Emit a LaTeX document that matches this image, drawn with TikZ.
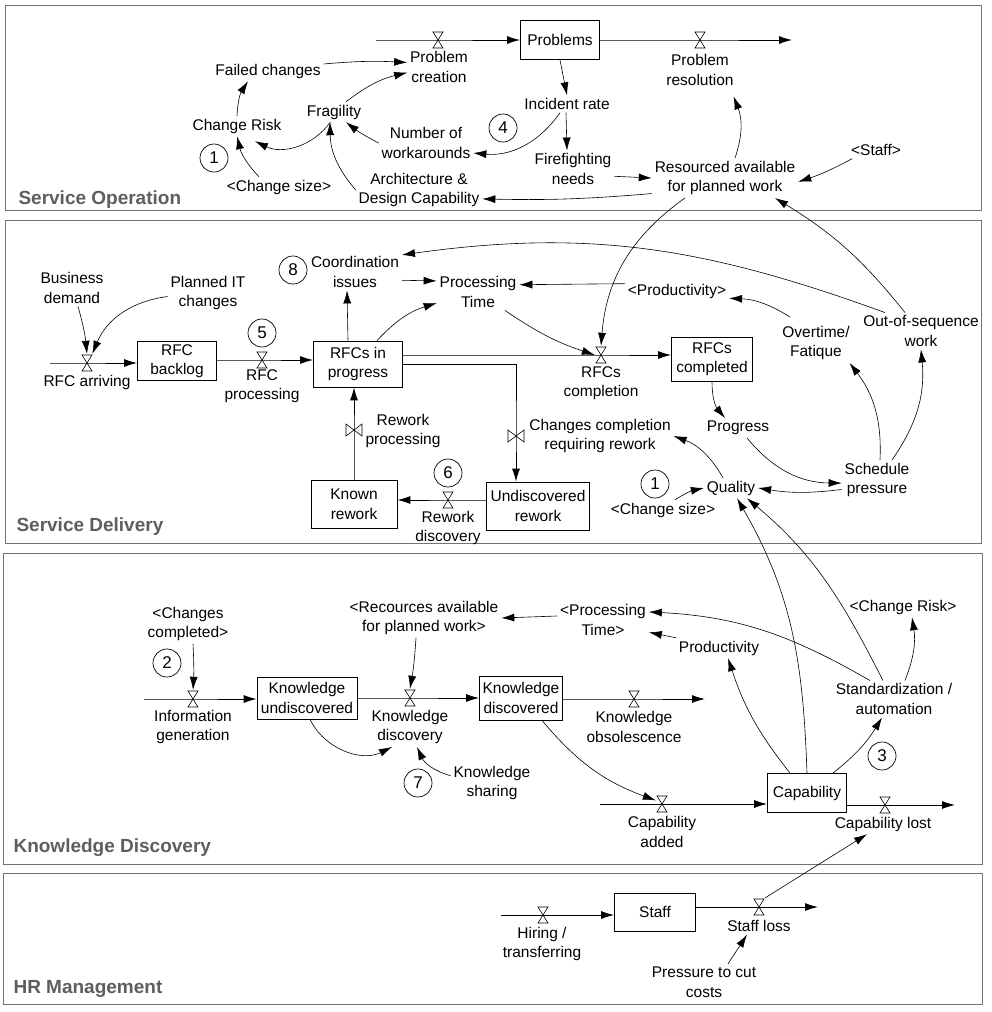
\documentclass[tikz,border=0pt]{standalone}
\usepackage{fontspec}
\setmainfont{Liberation Sans}
\usetikzlibrary{arrows.meta}

\begin{document}
\begin{tikzpicture}[x=1pt,y=-1pt,>={Latex[length=13pt,width=8pt]},
    every node/.style={font=\fontsize{15.5}{19.5}\selectfont},
    var node/.style={align=center,inner sep=2pt,outer sep=1pt},
    stock box/.style={draw,line width=0.8pt,align=center,inner sep=2pt,minimum width=79pt,minimum height=39pt},
    valve node/.style={inner sep=0pt,minimum width=12pt,minimum height=18pt,
        path picture={\draw[line width=0.6pt] ([shift={(-5pt,8pt)}]path picture bounding box.center) -- ++(10pt,0pt) -- ++(-10pt,-16pt) -- ++(10pt,0pt) -- cycle;}},
    side valve/.style={inner sep=0pt,minimum width=18pt,minimum height=14pt,
        path picture={\draw[line width=0.6pt] ([shift={(-8pt,6pt)}]path picture bounding box.center) -- ++(0pt,-12pt) -- ++(16pt,12pt) -- ++(0pt,-12pt) -- cycle;}},
    loop node/.style={circle,draw,line width=0.7pt,inner sep=0pt,minimum size=28pt,font=\fontsize{17}{17}\selectfont},
    pipe/.style={->,line width=0.9pt},
    infl/.style={->,line width=0.6pt},
    panel/.style={draw=black!55,line width=1pt},
    panel label/.style={anchor=base west,text=black!63,font=\fontsize{19}{22}\selectfont\bfseries}]

    \useasboundingbox (0,0) rectangle (992,1012);

    % panels
    \draw[panel] (5,5) rectangle (981,210);
    \draw[panel] (5,220) rectangle (981,543);
    \draw[panel] (3,553) rectangle (982,864);
    \draw[panel] (3,873) rectangle (982,1004);
    \node[panel label] at (15,204) (lso) {Service Operation};
    \node[panel label] at (13,531) (lsd) {Service Delivery};
    \node[panel label] at (10,852) (lkd) {Knowledge Discovery};
    \node[panel label] at (10,993) (lhr) {HR Management};

    % Service Operation
    \node[stock box] at (560,40) (prob) {Problems};
    \coordinate (srcA) at (376,40);
    \node[valve node] at (438,40) (vcre) {};
    \node[valve node] at (700,40) (vres) {};
    \coordinate (sinkA) at (792,40);
    \node[var node] at (439,67) (pcre) {Problem\\creation};
    \node[var node] at (700,70) (pres) {Problem\\resolution};
    \node[var node] at (268,71) (fail) {Failed changes};
    \node[var node] at (237,126) (crisk) {Change Risk};
    \node[var node] at (334,112) (frag) {Fragility};
    \node[var node] at (426,143) (nwork) {Number of\\workarounds};
    \node[var node] at (567,104) (inc) {Incident rate};
    \node[var node] at (573,169) (fire) {Firefighting\\needs};
    \node[var node] at (725,178) (res) {Resourced available\\for planned work};
    \node[var node] at (876,150) (staffA) {<Staff>};
    \node[var node] at (279,187) (csizeA) {<Change size>};
    \node[var node] at (419,190) (arch) {Architecture \&\\Design Capability};
    \node[loop node] at (214,158) (loop1a) {1};
    \node[loop node] at (503,128) (loop4) {4};

    \draw[pipe] (srcA) -- (vcre.center) -- (prob);
    \draw[pipe] (prob) -- (vres.center) -- (sinkA);

    \draw[infl] ([yshift=7pt]fail.east) to[bend left=4] (pcre.172);
    \draw[infl] ([xshift=12pt]frag.north) to[bend left=12] (pcre.190);
    \draw[infl] (crisk.north) to[bend left=15] ([xshift=-20pt]fail.south);
    \draw[infl] (frag.250) to[bend left=40] ([xshift=18pt,yshift=-5pt]crisk.south);
    \draw[infl] ([xshift=-20pt]csizeA.north) to[bend left=15] (crisk.south);
    \draw[infl] (arch.west) to[bend left=20] ([xshift=-4pt]frag.south);
    \draw[infl] (nwork.west) to[bend left=5] ([xshift=12pt]frag.south);
    \draw[infl] ([xshift=-7pt]inc.south) to[bend left=30] (nwork.-12);
    \draw[infl] (prob.south) -- (inc.north);
    \draw[infl] ([xshift=-1pt]inc.south) -- ([xshift=-6pt]fire.north);
    \draw[infl] (fire.-10) -- (res.west);
    \draw[infl] ([xshift=10pt]res.north) to[bend right=20] ([xshift=-3pt,yshift=-8pt]pres.south east);
    \draw[infl] (staffA.200) to[bend left=5] (res.-3);
    \draw[infl] (res.192) to[bend left=3] (arch.-8);

    % Service Delivery
    \node[var node] at (72,288) (bdem) {Business\\demand};
    \node[var node] at (208,293) (pitc) {Planned IT\\changes};
    \coordinate (srcB) at (50,363);
    \node[valve node] at (87,363) (varr) {};
    \node[var node] at (87,382) (larr) {RFC arriving};
    \node[stock box] at (177,361) (backlog) {RFC\\backlog};
    \node[valve node] at (262,360) (vproc) {};
    \node[var node] at (262,386) (lproc) {RFC\\processing};
    \node[loop node] at (262,333) (loop5) {5};
    \node[stock box,minimum width=89pt,minimum height=46pt] at (358,364) (rip) {RFCs in\\progress};
    \node[var node] at (355,272) (coord) {Coordination\\issues};
    \node[loop node] at (293,270) (loop8) {8};
    \node[var node] at (478,292) (ptime) {Processing\\Time};
    \node[valve node] at (601,355) (vcomp) {};
    \node[var node] at (601,383) (lcomp) {RFCs\\completion};
    \node[stock box,minimum width=81pt,minimum height=44pt] at (712,359) (rdone) {RFCs\\completed};
    \node[side valve] at (516,436) (vcrr) {};
    \node[var node] at (600,436) (crr) {Changes completion\\requiring rework};
    \node[stock box,minimum width=103pt,minimum height=48pt] at (538,506) (urw) {Undiscovered\\rework};
    \node[valve node] at (448,500) (vrd) {};
    \node[var node] at (448,528) (lrd) {Rework\\discovery};
    \node[loop node] at (448,473) (loop6) {6};
    \node[stock box,minimum width=86pt,minimum height=48pt] at (354,504) (known) {Known\\rework};
    \node[side valve] at (354,430) (vrp) {};
    \node[var node] at (403,431) (lrp) {Rework\\processing};
    \node[var node] at (677,291) (prodA) {<Productivity>};
    \node[var node] at (816,343) (ovt) {Overtime/\\Fatique};
    \node[var node] at (921,331) (oos) {Out-of-sequence\\work};
    \node[var node] at (738,428) (progr) {Progress};
    \node[var node] at (877,480) (sp) {Schedule\\pressure};
    \node[var node] at (731,488) (qual) {Quality};
    \node[var node] at (663,510) (csizeB) {<Change size>};
    \node[loop node] at (655,484) (loop1b) {1};

    \draw[pipe] (srcB) -- (varr.center) -- (backlog.west |- varr.center);
    \draw[pipe] (backlog.east |- vproc.center) -- (vproc.center) -- (rip.west |- vproc.center);
    \draw[pipe] (rip.east |- vcomp.center) -- (vcomp.center) -- (rdone.west |- vcomp.center);
    \draw[pipe] (rip.east) -- (rip.east -| vcrr.center) -- (vcrr.center) -- (urw.north -| vcrr.center);
    \draw[pipe] (urw.west |- vrd.center) -- (vrd.center) -- (known.east |- vrd.center);
    \draw[pipe] (known.north) -- (vrp.center) -- (rip.south -| vrp.center);

    \draw[infl] ([xshift=6pt]bdem.south) to[bend left=5] (varr.north);
    \draw[infl] (pitc.185) to[bend right=30] (varr.60);
    \draw[infl] ([xshift=-10pt]rip.north) -- ([xshift=-8pt]coord.south);
    \draw[infl] ([xshift=19pt]rip.north) to[bend left=15] (ptime.195);
    \draw[infl] (coord.-10) -- (ptime.165);
    \draw[infl] ([xshift=-36pt]oos.north) to[out=160,in=8] (coord.20);
    \draw[infl] ([xshift=-16pt]oos.north) to[bend right=10] ([xshift=50pt]res.south);
    \draw[infl] ([xshift=-40pt]res.south) to[bend right=25] (vcomp.north);
    \draw[infl] (prodA.172) -- (ptime.10);
    \draw[infl] ([xshift=-26pt,yshift=6pt]ovt.north) to[bend right=15] (prodA.-8);
    \draw[infl] ([xshift=27pt]ptime.south) to[bend right=8] (vcomp.west);
    \draw[infl] (rdone.south) to[bend right=20] ([xshift=-13pt]progr.north);
    \draw[infl] ([xshift=9pt]progr.south) to[bend right=25] (sp.185);
    \draw[infl] (sp.195) to[bend left=8] (qual.east);
    \draw[infl] ([xshift=3pt]sp.north) to[bend right=20] ([xshift=-3pt]ovt.south east);
    \draw[infl] ([xshift=15pt]sp.north) to[bend right=20] (oos.south);
    \draw[infl] ([xshift=-8pt]qual.north) to[bend right=20] (crr.east);
    \draw[infl] ([xshift=12pt]csizeB.north) to[bend left=10] (qual.west);

    % Knowledge Discovery
    \node[var node] at (188,624) (ccomp) {<Changes\\completed>};
    \node[loop node] at (167,663) (loop2) {2};
    \coordinate (srcC) at (144,699);
    \node[valve node] at (193,699) (vinfo) {};
    \node[var node] at (193,727) (linfo) {Information\\generation};
    \node[stock box,minimum width=100pt,minimum height=42pt] at (307,698) (kund) {Knowledge\\undiscovered};
    \node[valve node] at (410,698) (vdisc) {};
    \node[var node] at (410,727) (kdisc) {Knowledge\\discovery};
    \node[var node] at (424,618) (rcap) {<Recources available\\for planned work>};
    \node[var node] at (492,783) (ksh) {Knowledge\\sharing};
    \node[loop node] at (418,783) (loop7) {7};
    \node[stock box,minimum width=83pt,minimum height=44pt] at (521,698) (kdis) {Knowledge\\discovered};
    \node[valve node] at (634,699) (vobs) {};
    \coordinate (sinkC) at (705,699);
    \node[var node] at (634,727) (lobs) {Knowledge\\obsolescence};
    \node[var node] at (603,620) (ptimeB) {<Processing\\Time>};
    \node[var node] at (719,648) (prodB) {Productivity};
    \coordinate (srcD) at (600,804);
    \node[valve node] at (662,804) (vadd) {};
    \node[var node] at (662,832) (ladd) {Capability\\added};
    \node[stock box] at (807,793) (cap) {Capability};
    \node[valve node] at (885,805) (vlost) {};
    \coordinate (sinkD) at (955,805);
    \node[var node] at (883,824) (llost) {Capability lost};
    \node[var node] at (894,699) (stdz) {Standardization /\\automation};
    \node[var node] at (903,607) (criskB) {<Change Risk>};
    \node[loop node] at (882,756) (loop3) {3};

    \draw[pipe] (srcC) -- (vinfo.center) -- (kund.west |- vinfo.center);
    \draw[pipe] (kund.east |- vdisc.center) -- (vdisc.center) -- (kdis.west |- vdisc.center);
    \draw[pipe] (kdis.east |- vobs.center) -- (vobs.center) -- (sinkC);
    \draw[pipe] (srcD) -- (vadd.center) -- (cap.west |- vadd.center);
    \draw[pipe] (cap.east |- vlost.center) -- (vlost.center) -- (sinkD);

    \draw[infl] ([xshift=5pt]ccomp.south) to[bend left=3] (vinfo.north);
    \draw[infl] ([xshift=-8pt]rcap.south) to[bend left=3] (vdisc.north);
    \draw[infl] ([xshift=3pt]kund.south) to[bend right=45] ([xshift=-18pt]kdisc.south);
    \draw[infl] (ksh.170) to[bend left=25] ([xshift=7pt]kdisc.south);
    \draw[infl] ([xshift=21pt]kdis.south) to[bend right=15] (vadd.150);
    \draw[infl] (ptimeB.175) -- (rcap.east);
    \draw[infl] (prodB.north west) -- (ptimeB.-15);
    \draw[infl] ([xshift=-17pt]cap.north) to[bend left=10] ([xshift=9pt]prodB.south);
    \draw[infl] ([xshift=26pt]cap.north) to[bend right=10] ([xshift=-12pt]stdz.south);
    \draw[infl] ([xshift=-24pt]stdz.north) to[out=150,in=-3] (ptimeB.10);
    \draw[infl] ([xshift=11pt]stdz.north) to[bend right=15] ([xshift=9pt]criskB.south);
    \draw[infl] (cap.north) to[out=92,in=-60] ([xshift=6pt]qual.south);
    \draw[infl] ([xshift=-11pt]stdz.north) to[out=117,in=-40] ([xshift=16pt]qual.south);

    % HR Management
    \coordinate (srcE) at (501,915);
    \node[valve node] at (543,915) (vhire) {};
    \node[var node] at (542,944) (lhire) {Hiring /\\transferring};
    \node[stock box,minimum width=81pt,minimum height=38pt] at (655,912) (staff) {Staff};
    \node[valve node] at (759,907) (vloss) {};
    \coordinate (sinkE) at (818,907);
    \node[var node] at (759,926) (lloss) {Staff loss};
    \node[var node] at (704,982) (pcut) {Pressure to cut\\costs};

    \draw[pipe] (srcE) -- (vhire.center) -- (staff.west |- vhire.center);
    \draw[pipe] (staff.east |- vloss.center) -- (vloss.center) -- (sinkE);
    \draw[infl] ([xshift=24pt]pcut.north) -- ([xshift=-12pt]lloss.south);
    \draw[infl] (vloss.north east) -- ([xshift=-16pt]llost.south);
\end{tikzpicture}
\end{document}
